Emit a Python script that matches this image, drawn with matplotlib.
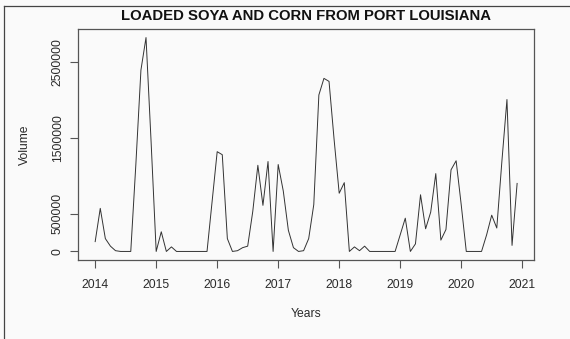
import numpy as np
import matplotlib
matplotlib.use("Agg")
import matplotlib.pyplot as plt
from matplotlib.lines import Line2D

# Monthly loaded volume, Jan 2014 .. Dec 2020
start_year = 2014
volume = [
    130000, 570000, 170000, 70000, 10000, 0, 0, 0, 1150000, 2400000, 2830000, 1450000,       # 2014
    0, 260000, 0, 60000, 0, 0, 0, 0, 0, 0, 0, 660000,                                          # 2015
    1320000, 1280000, 170000, 0, 10000, 50000, 70000, 530000, 1140000, 610000, 1190000, 0,     # 2016
    1150000, 800000, 280000, 50000, 0, 10000, 170000, 620000, 2070000, 2290000, 2250000, 1480000,  # 2017
    770000, 910000, 0, 60000, 10000, 70000, 0, 0, 0, 0, 0, 0,                                  # 2018
    220000, 440000, 0, 100000, 750000, 300000, 520000, 1030000, 150000, 290000, 1080000, 1200000,  # 2019
    620000, 0, 0, 0, 0, 220000, 480000, 310000, 1190000, 2010000, 80000, 900000,               # 2020
]
year_ticks = [2014, 2015, 2016, 2017, 2018, 2019, 2020, 2021]
volume_ticks = [0, 500000, 1500000, 2500000]

title = "LOADED SOYA AND CORN FROM PORT LOUISIANA"
x_label = "Years"
y_label = "Volume"

plt.rcParams["font.family"] = ["Liberation Sans", "DejaVu Sans"]
ink = "#2a2a2a"
bg = "#fafafa"

t = start_year + np.arange(len(volume)) / 12.0
v = np.asarray(volume, dtype=float)

W, H = 570, 339
fig = plt.figure(figsize=(W / 100, H / 100), dpi=100, facecolor=bg)
left, right, top, bottom = 78.3, 534.0, 29.0, 260.0
ax = fig.add_axes([left / W, 1 - bottom / H, (right - left) / W, (bottom - top) / H])
ax.set_facecolor(bg)

ax.plot(t, v, color="#333333", lw=0.7)

# R-style 4% padding of the data range
def padded(lo, hi):
    d = (hi - lo) * 0.04
    return lo - d, hi + d

ax.set_xlim(*padded(t.min(), t.max()))
ax.set_ylim(*padded(v.min(), v.max()))

ax.set_xticks(year_ticks)
ax.set_xticklabels([str(y) for y in year_ticks], fontsize=8.7, color=ink)
ax.set_yticks(volume_ticks)
ax.set_yticklabels([str(y) for y in volume_ticks], fontsize=8.7, color=ink,
                   rotation=90, va="center")
ax.tick_params(axis="both", direction="out", length=5.5, width=0.8, color="#555555")
ax.tick_params(axis="x", pad=8)
ax.tick_params(axis="y", pad=5)

for s in ax.spines.values():
    s.set_color("#555555")
    s.set_linewidth(0.9)

ax.set_xlabel(x_label, fontsize=8.7, color=ink)
ax.xaxis.set_label_coords(0.5, -0.234)
ax.xaxis.label.set_va("center")
ax.set_ylabel(y_label, fontsize=8.7, color=ink)
ax.yaxis.set_label_coords((25 - left) / (right - left), 0.5)
ax.yaxis.label.set_va("center")

fig.text(306 / W, 1 - 16.4 / H, title, ha="center", va="center",
         fontsize=10.7, fontweight="bold", color="#111111")

# thin frame lines along the top and left edge of the canvas
fig.add_artist(Line2D([3.5 / W, 1], [1 - 5.5 / H, 1 - 5.5 / H],
                      transform=fig.transFigure, color="#444444", lw=0.9))
fig.add_artist(Line2D([3.5 / W, 3.5 / W], [0, 1 - 5.5 / H],
                      transform=fig.transFigure, color="#444444", lw=0.9))

fig.savefig("out.png", dpi=100, facecolor=bg)
